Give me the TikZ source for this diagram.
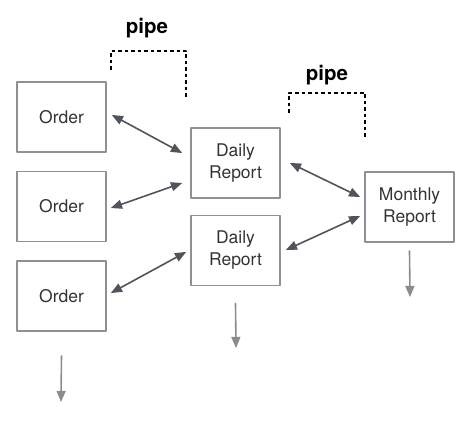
\documentclass[tikz,border=0pt]{standalone}
\usepackage{fontspec}
\setmainfont{TeX Gyre Heros}
\usepackage{tikz}
\usetikzlibrary{arrows}
\definecolor{boxgray}{HTML}{8E9093}
\definecolor{linkgray}{HTML}{50555C}
\definecolor{outgray}{HTML}{8A8C8F}
\definecolor{textgray}{HTML}{333333}
\begin{document}
\begin{tikzpicture}[line cap=round,line join=round,>=triangle 45,x=1.0pt,y=1.0pt,
  box/.style={draw=boxgray,line width=1.8pt,minimum width=89pt,minimum height=70pt,
    align=center,text=textgray,font=\fontsize{17.5}{22}\selectfont},
  link/.style={<->,draw=linkgray,line width=1.6pt},
  outflow/.style={->,draw=outgray,line width=1.6pt},
  pipeline/.style={draw=black,line width=1.8pt,line cap=butt,dash pattern=on 3.5pt off 3pt},
  pipelabel/.style={font=\fontsize{20.5}{24}\selectfont\bfseries}]
\useasboundingbox (0,0) rectangle (474,422);
\node[box] (order1) at (61.5,305) {Order};
\node[box] (order2) at (61.5,215.5) {Order};
\node[box] (order3) at (61.5,126) {Order};
\node[box] (daily1) at (235.5,259) {Daily\\Report};
\node[box] (daily2) at (235.5,171.5) {Daily\\Report};
\node[box] (monthly) at (409.5,215) {Monthly\\Report};
\draw[link] ([xshift=5pt,yshift=2pt]order1.east) -- ([xshift=-8pt,yshift=10pt]daily1.west);
\draw[link] ([xshift=4pt,yshift=-1.5pt]order2.east) -- ([xshift=-8pt,yshift=-20pt]daily1.west);
\draw[link] ([xshift=4pt,yshift=3pt]order3.east) -- ([xshift=-4pt,yshift=-1.5pt]daily2.west);
\draw[link] ([xshift=9pt]daily1.east) -- ([xshift=-4pt,yshift=10pt]monthly.west);
\draw[link] ([xshift=5pt,yshift=0.5pt]daily2.east) -- ([xshift=-4pt,yshift=-9pt]monthly.west);
\coordinate (orderout) at (61,20);
\coordinate (dailyout) at (236,74);
\coordinate (monthlyout) at (410,125);
\draw[outflow] ([yshift=-24pt]order3.south) -- (orderout);
\draw[outflow] ([yshift=-17pt]daily2.south) -- (dailyout);
\draw[outflow] ([yshift=-8pt]monthly.south) -- (monthlyout);
% pipes
\draw[pipeline] (111,352) |- (186,371) -- (186,325);
\node[pipelabel] (pipe1) at (147,394) {pipe};
\draw[pipeline] (289,309) |- (365,329) -- (365,282);
\node[pipelabel] (pipe2) at (327,347) {pipe};
\end{tikzpicture}
\end{document}
